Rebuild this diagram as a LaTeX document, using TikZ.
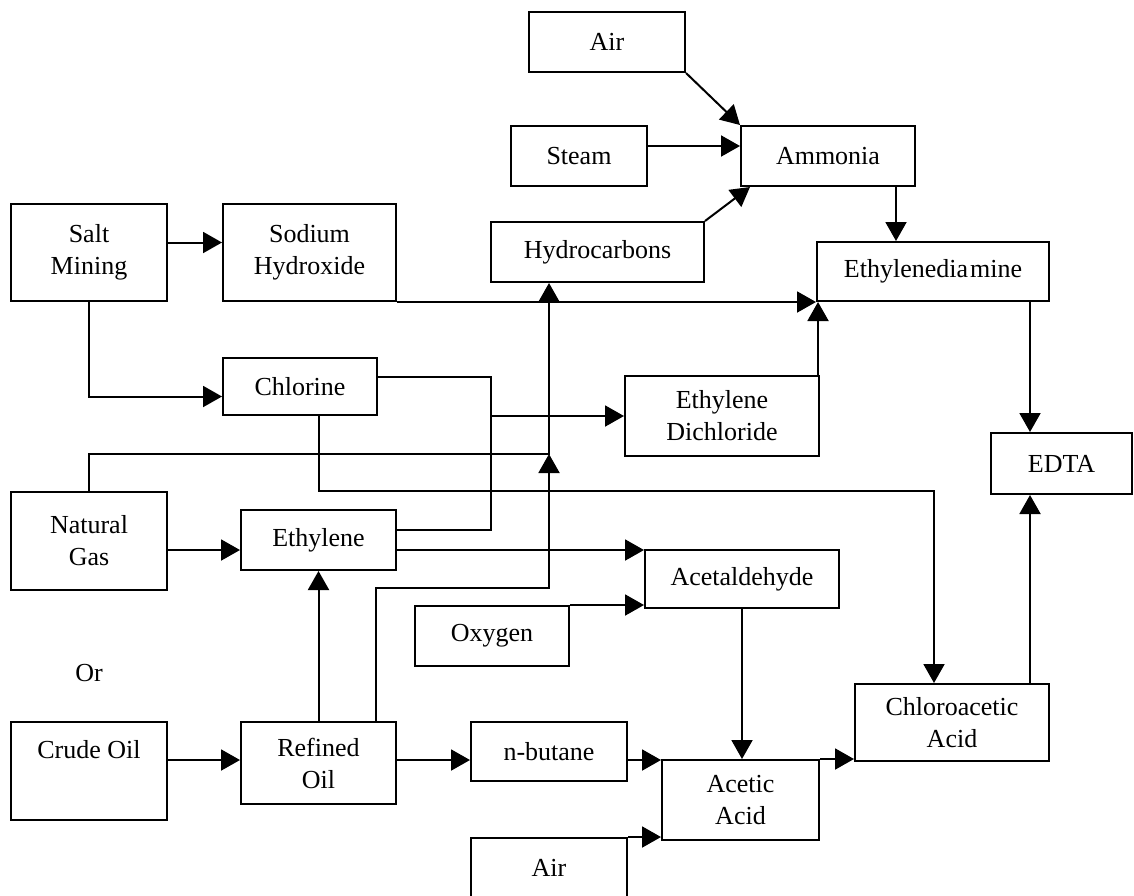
\documentclass[tikz,border=0pt]{standalone}
\usepackage{fontspec}
\setmainfont{Liberation Serif}
\usetikzlibrary{arrows.meta}
\begin{document}
\begin{tikzpicture}[x=1pt,y=-1pt,
  box/.style={draw, line width=2pt, inner sep=0pt, align=center, font=\fontsize{26}{32}\selectfont},
  conn/.style={line width=2pt},
  arr/.style={conn, -{Triangle[length=19pt,width=21pt]}}]
\useasboundingbox (0,0) rectangle (1134,895);
\clip (0,0) rectangle (1134,895);
% boxes
\node[box, minimum width=156pt, minimum height=60pt] (airT) at (607,42) {Air};
\node[box, minimum width=136pt, minimum height=60pt] (steam) at (579,156) {Steam};
\node[box, minimum width=174pt, minimum height=60pt] (ammonia) at (828,156) {Ammonia};
\node[box, minimum width=156pt, minimum height=97pt] (salt) at (89,252.5) {Salt\\Mining};
\node[box, minimum width=173pt, minimum height=97pt] (sodium) at (309.5,252.5) {Sodium\\Hydroxide};
\node[box, minimum width=213pt, minimum height=60pt] (hydro) at (597.5,252) {Hydrocarbons};
\node[box, minimum width=232pt, minimum height=59pt] (edamine) at (933,271.5) {Ethylenedia\kern2pt mine};
\node[box, minimum width=154pt, minimum height=57pt] (chlorine) at (300,386.5) {Chlorine};
\node[box, minimum width=194pt, minimum height=80pt] (edc) at (722,416) {Ethylene\\Dichloride};
\node[box, minimum width=141pt, minimum height=61pt] (edta) at (1061.5,463.5) {EDTA};
\node[box, minimum width=156pt, minimum height=98pt] (natgas) at (89,541) {Natural\\Gas};
\node[box, minimum width=155pt, minimum height=60pt] (ethylene) at (318.5,540) {Ethylene};
\node[box, minimum width=194pt, minimum height=58pt] (acetald) at (742,579) {Acetaldehyde};
\node[box, minimum width=154pt, minimum height=60pt] (oxygen) at (492,636) {Oxygen};
\node[box, minimum width=194pt, minimum height=77pt] (chloro) at (952,722.5) {Chloroacetic\\Acid};
\node[box, minimum width=156pt, minimum height=98pt, text height=18pt, text depth=44pt] (crude) at (89,771) {Crude Oil};
\node[box, minimum width=155pt, minimum height=82pt] (refined) at (318.5,763) {Refined\\Oil};
\node[box, minimum width=156pt, minimum height=59pt] (nbutane) at (549,751.5) {n-butane};
\node[box, minimum width=157pt, minimum height=80pt] (acetic) at (740.5,800) {Acetic\\Acid};
\node[box, minimum width=156pt, minimum height=60pt] (airB) at (549,868) {Air};
\node[inner sep=0pt, font=\fontsize{26}{32}\selectfont] (ortext) at (89,673) {Or};
% helper coordinates
\coordinate (jn) at (491,416);
\coordinate (cc) at (934,491);
\coordinate (jh) at (549,454);
\coordinate (jr) at (549,588);
\coordinate (p1) at ([yshift=10pt]salt.east);
\coordinate (p2) at ([yshift=10pt]steam.east);
\coordinate (p3) at ([xshift=-20pt]ammonia.south east);
\coordinate (p4) at ([yshift=-9pt]natgas.east);
\coordinate (p5) at ([yshift=-10pt]ethylene.east);
\coordinate (p6) at ([yshift=11pt]crude.east);
\coordinate (p7) at ([yshift=3pt]refined.east);
\coordinate (p8) at ([yshift=-8.5pt]nbutane.east);
\coordinate (p9) at ([xshift=-2pt]edc.north east);
\coordinate (p10) at ([xshift=-20pt]edamine.south east);
\coordinate (p11) at ([xshift=-20pt]chloro.north east);
% connectors
\draw[arr] (airT.south east) -- (ammonia.north west);
\draw[arr] (p2) -- (p2 -| ammonia.west);
\draw[arr] (hydro.north east) -- ([xshift=10pt]ammonia.south west);
\draw[arr] (p3) -- (p3 |- edamine.north);
\draw[arr] (p1) -- (p1 -| sodium.west);
\draw[arr] (sodium.south east) -- (sodium.south east -| edamine.west);
\draw[arr] (salt.south) |- ([yshift=-10pt]chlorine.west);
\draw[conn] ([yshift=10pt]chlorine.east) -| (jn) |- ([yshift=10pt]ethylene.east);
\draw[arr] (jn) -- (jn -| edc.west);
\draw[arr] ([xshift=19pt]chlorine.south) |- (cc) -- ([xshift=-18pt]chloro.north);
\draw[arr] (natgas.north) |- (jh) -- (jh |- hydro.south);
\draw[arr] ([xshift=-21pt]refined.north east) |- (jr) -- (jh);
\draw[arr] (p4) -- (p4 -| ethylene.west);
\draw[arr] (p5) -- (p5 -| acetald.west);
\draw[arr] (oxygen.north east) -- (oxygen.north east -| acetald.west);
\draw[arr] (acetald.south) -- (acetald.south |- acetic.north);
\draw[arr] (refined.north) -- (ethylene.south);
\draw[arr] (p6) -- (p6 -| refined.west);
\draw[arr] (p7) -- (p7 -| nbutane.west);
\draw[arr] (p8) -- (p8 -| acetic.west);
\draw[arr] (airB.north east) -- (airB.north east -| acetic.west);
\draw[arr] (acetic.north east) -- (acetic.north east -| chloro.west);
\draw[arr] (p9) -- (p9 |- edamine.south);
\draw[arr] (p10) -- (p10 |- edta.north);
\draw[arr] (p11) -- (p11 |- edta.south);
\end{tikzpicture}
\end{document}
